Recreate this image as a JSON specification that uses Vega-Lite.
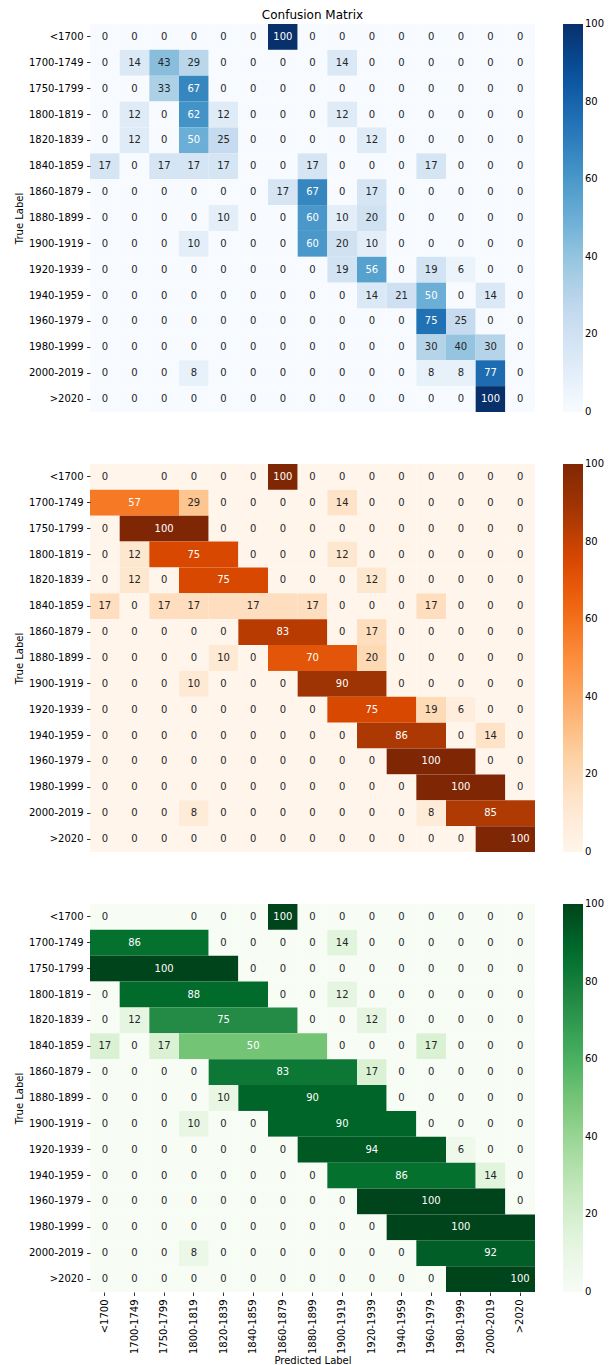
{
"$schema": "https://vega.github.io/schema/vega-lite/v6.json",
"background": "white",
"padding": {"left": 14, "top": 9, "right": 0, "bottom": 0},
"spacing": 47,
"config": {
 "view": {"stroke": null},
 "font": "DejaVu Sans",
 "axis": {"domain": false, "grid": false, "tickSize": 3.5, "tickWidth": 0.8, "tickColor": "black", "labelPadding": 3.5, "labelFont": "DejaVu Sans", "labelFontSize": 10, "labelColor": "black", "titleFont": "DejaVu Sans", "titleFontSize": 10, "titleFontWeight": "normal", "titleColor": "black"},
 "legend": {"gradientLength": 388, "gradientThickness": 20, "labelFont": "DejaVu Sans", "labelFontSize": 10, "labelColor": "black", "labelOffset": 7, "offset": 28, "gradientStrokeWidth": 0, "padding": 0, "labelBaseline": "middle", "labelOverlap": false}
},
"resolve": {"scale": {"color": "independent"}, "legend": {"color": "independent"}},
"datasets": {
"p1": [
{"r":0,"c":0,"a":0,"e":1,"v":0},{"r":0,"c":1,"a":1,"e":2,"v":0},{"r":0,"c":2,"a":2,"e":3,"v":0},{"r":0,"c":3,"a":3,"e":4,"v":0},{"r":0,"c":4,"a":4,"e":5,"v":0},{"r":0,"c":5,"a":5,"e":6,"v":0},{"r":0,"c":6,"a":6,"e":7,"v":100},{"r":0,"c":7,"a":7,"e":8,"v":0},{"r":0,"c":8,"a":8,"e":9,"v":0},{"r":0,"c":9,"a":9,"e":10,"v":0},{"r":0,"c":10,"a":10,"e":11,"v":0},{"r":0,"c":11,"a":11,"e":12,"v":0},{"r":0,"c":12,"a":12,"e":13,"v":0},{"r":0,"c":13,"a":13,"e":14,"v":0},{"r":0,"c":14,"a":14,"e":15,"v":0},
{"r":1,"c":0,"a":0,"e":1,"v":0},{"r":1,"c":1,"a":1,"e":2,"v":14},{"r":1,"c":2,"a":2,"e":3,"v":43},{"r":1,"c":3,"a":3,"e":4,"v":29},{"r":1,"c":4,"a":4,"e":5,"v":0},{"r":1,"c":5,"a":5,"e":6,"v":0},{"r":1,"c":6,"a":6,"e":7,"v":0},{"r":1,"c":7,"a":7,"e":8,"v":0},{"r":1,"c":8,"a":8,"e":9,"v":14},{"r":1,"c":9,"a":9,"e":10,"v":0},{"r":1,"c":10,"a":10,"e":11,"v":0},{"r":1,"c":11,"a":11,"e":12,"v":0},{"r":1,"c":12,"a":12,"e":13,"v":0},{"r":1,"c":13,"a":13,"e":14,"v":0},{"r":1,"c":14,"a":14,"e":15,"v":0},
{"r":2,"c":0,"a":0,"e":1,"v":0},{"r":2,"c":1,"a":1,"e":2,"v":0},{"r":2,"c":2,"a":2,"e":3,"v":33},{"r":2,"c":3,"a":3,"e":4,"v":67},{"r":2,"c":4,"a":4,"e":5,"v":0},{"r":2,"c":5,"a":5,"e":6,"v":0},{"r":2,"c":6,"a":6,"e":7,"v":0},{"r":2,"c":7,"a":7,"e":8,"v":0},{"r":2,"c":8,"a":8,"e":9,"v":0},{"r":2,"c":9,"a":9,"e":10,"v":0},{"r":2,"c":10,"a":10,"e":11,"v":0},{"r":2,"c":11,"a":11,"e":12,"v":0},{"r":2,"c":12,"a":12,"e":13,"v":0},{"r":2,"c":13,"a":13,"e":14,"v":0},{"r":2,"c":14,"a":14,"e":15,"v":0},
{"r":3,"c":0,"a":0,"e":1,"v":0},{"r":3,"c":1,"a":1,"e":2,"v":12},{"r":3,"c":2,"a":2,"e":3,"v":0},{"r":3,"c":3,"a":3,"e":4,"v":62},{"r":3,"c":4,"a":4,"e":5,"v":12},{"r":3,"c":5,"a":5,"e":6,"v":0},{"r":3,"c":6,"a":6,"e":7,"v":0},{"r":3,"c":7,"a":7,"e":8,"v":0},{"r":3,"c":8,"a":8,"e":9,"v":12},{"r":3,"c":9,"a":9,"e":10,"v":0},{"r":3,"c":10,"a":10,"e":11,"v":0},{"r":3,"c":11,"a":11,"e":12,"v":0},{"r":3,"c":12,"a":12,"e":13,"v":0},{"r":3,"c":13,"a":13,"e":14,"v":0},{"r":3,"c":14,"a":14,"e":15,"v":0},
{"r":4,"c":0,"a":0,"e":1,"v":0},{"r":4,"c":1,"a":1,"e":2,"v":12},{"r":4,"c":2,"a":2,"e":3,"v":0},{"r":4,"c":3,"a":3,"e":4,"v":50},{"r":4,"c":4,"a":4,"e":5,"v":25},{"r":4,"c":5,"a":5,"e":6,"v":0},{"r":4,"c":6,"a":6,"e":7,"v":0},{"r":4,"c":7,"a":7,"e":8,"v":0},{"r":4,"c":8,"a":8,"e":9,"v":0},{"r":4,"c":9,"a":9,"e":10,"v":12},{"r":4,"c":10,"a":10,"e":11,"v":0},{"r":4,"c":11,"a":11,"e":12,"v":0},{"r":4,"c":12,"a":12,"e":13,"v":0},{"r":4,"c":13,"a":13,"e":14,"v":0},{"r":4,"c":14,"a":14,"e":15,"v":0},
{"r":5,"c":0,"a":0,"e":1,"v":17},{"r":5,"c":1,"a":1,"e":2,"v":0},{"r":5,"c":2,"a":2,"e":3,"v":17},{"r":5,"c":3,"a":3,"e":4,"v":17},{"r":5,"c":4,"a":4,"e":5,"v":17},{"r":5,"c":5,"a":5,"e":6,"v":0},{"r":5,"c":6,"a":6,"e":7,"v":0},{"r":5,"c":7,"a":7,"e":8,"v":17},{"r":5,"c":8,"a":8,"e":9,"v":0},{"r":5,"c":9,"a":9,"e":10,"v":0},{"r":5,"c":10,"a":10,"e":11,"v":0},{"r":5,"c":11,"a":11,"e":12,"v":17},{"r":5,"c":12,"a":12,"e":13,"v":0},{"r":5,"c":13,"a":13,"e":14,"v":0},{"r":5,"c":14,"a":14,"e":15,"v":0},
{"r":6,"c":0,"a":0,"e":1,"v":0},{"r":6,"c":1,"a":1,"e":2,"v":0},{"r":6,"c":2,"a":2,"e":3,"v":0},{"r":6,"c":3,"a":3,"e":4,"v":0},{"r":6,"c":4,"a":4,"e":5,"v":0},{"r":6,"c":5,"a":5,"e":6,"v":0},{"r":6,"c":6,"a":6,"e":7,"v":17},{"r":6,"c":7,"a":7,"e":8,"v":67},{"r":6,"c":8,"a":8,"e":9,"v":0},{"r":6,"c":9,"a":9,"e":10,"v":17},{"r":6,"c":10,"a":10,"e":11,"v":0},{"r":6,"c":11,"a":11,"e":12,"v":0},{"r":6,"c":12,"a":12,"e":13,"v":0},{"r":6,"c":13,"a":13,"e":14,"v":0},{"r":6,"c":14,"a":14,"e":15,"v":0},
{"r":7,"c":0,"a":0,"e":1,"v":0},{"r":7,"c":1,"a":1,"e":2,"v":0},{"r":7,"c":2,"a":2,"e":3,"v":0},{"r":7,"c":3,"a":3,"e":4,"v":0},{"r":7,"c":4,"a":4,"e":5,"v":10},{"r":7,"c":5,"a":5,"e":6,"v":0},{"r":7,"c":6,"a":6,"e":7,"v":0},{"r":7,"c":7,"a":7,"e":8,"v":60},{"r":7,"c":8,"a":8,"e":9,"v":10},{"r":7,"c":9,"a":9,"e":10,"v":20},{"r":7,"c":10,"a":10,"e":11,"v":0},{"r":7,"c":11,"a":11,"e":12,"v":0},{"r":7,"c":12,"a":12,"e":13,"v":0},{"r":7,"c":13,"a":13,"e":14,"v":0},{"r":7,"c":14,"a":14,"e":15,"v":0},
{"r":8,"c":0,"a":0,"e":1,"v":0},{"r":8,"c":1,"a":1,"e":2,"v":0},{"r":8,"c":2,"a":2,"e":3,"v":0},{"r":8,"c":3,"a":3,"e":4,"v":10},{"r":8,"c":4,"a":4,"e":5,"v":0},{"r":8,"c":5,"a":5,"e":6,"v":0},{"r":8,"c":6,"a":6,"e":7,"v":0},{"r":8,"c":7,"a":7,"e":8,"v":60},{"r":8,"c":8,"a":8,"e":9,"v":20},{"r":8,"c":9,"a":9,"e":10,"v":10},{"r":8,"c":10,"a":10,"e":11,"v":0},{"r":8,"c":11,"a":11,"e":12,"v":0},{"r":8,"c":12,"a":12,"e":13,"v":0},{"r":8,"c":13,"a":13,"e":14,"v":0},{"r":8,"c":14,"a":14,"e":15,"v":0},
{"r":9,"c":0,"a":0,"e":1,"v":0},{"r":9,"c":1,"a":1,"e":2,"v":0},{"r":9,"c":2,"a":2,"e":3,"v":0},{"r":9,"c":3,"a":3,"e":4,"v":0},{"r":9,"c":4,"a":4,"e":5,"v":0},{"r":9,"c":5,"a":5,"e":6,"v":0},{"r":9,"c":6,"a":6,"e":7,"v":0},{"r":9,"c":7,"a":7,"e":8,"v":0},{"r":9,"c":8,"a":8,"e":9,"v":19},{"r":9,"c":9,"a":9,"e":10,"v":56},{"r":9,"c":10,"a":10,"e":11,"v":0},{"r":9,"c":11,"a":11,"e":12,"v":19},{"r":9,"c":12,"a":12,"e":13,"v":6},{"r":9,"c":13,"a":13,"e":14,"v":0},{"r":9,"c":14,"a":14,"e":15,"v":0},
{"r":10,"c":0,"a":0,"e":1,"v":0},{"r":10,"c":1,"a":1,"e":2,"v":0},{"r":10,"c":2,"a":2,"e":3,"v":0},{"r":10,"c":3,"a":3,"e":4,"v":0},{"r":10,"c":4,"a":4,"e":5,"v":0},{"r":10,"c":5,"a":5,"e":6,"v":0},{"r":10,"c":6,"a":6,"e":7,"v":0},{"r":10,"c":7,"a":7,"e":8,"v":0},{"r":10,"c":8,"a":8,"e":9,"v":0},{"r":10,"c":9,"a":9,"e":10,"v":14},{"r":10,"c":10,"a":10,"e":11,"v":21},{"r":10,"c":11,"a":11,"e":12,"v":50},{"r":10,"c":12,"a":12,"e":13,"v":0},{"r":10,"c":13,"a":13,"e":14,"v":14},{"r":10,"c":14,"a":14,"e":15,"v":0},
{"r":11,"c":0,"a":0,"e":1,"v":0},{"r":11,"c":1,"a":1,"e":2,"v":0},{"r":11,"c":2,"a":2,"e":3,"v":0},{"r":11,"c":3,"a":3,"e":4,"v":0},{"r":11,"c":4,"a":4,"e":5,"v":0},{"r":11,"c":5,"a":5,"e":6,"v":0},{"r":11,"c":6,"a":6,"e":7,"v":0},{"r":11,"c":7,"a":7,"e":8,"v":0},{"r":11,"c":8,"a":8,"e":9,"v":0},{"r":11,"c":9,"a":9,"e":10,"v":0},{"r":11,"c":10,"a":10,"e":11,"v":0},{"r":11,"c":11,"a":11,"e":12,"v":75},{"r":11,"c":12,"a":12,"e":13,"v":25},{"r":11,"c":13,"a":13,"e":14,"v":0},{"r":11,"c":14,"a":14,"e":15,"v":0},
{"r":12,"c":0,"a":0,"e":1,"v":0},{"r":12,"c":1,"a":1,"e":2,"v":0},{"r":12,"c":2,"a":2,"e":3,"v":0},{"r":12,"c":3,"a":3,"e":4,"v":0},{"r":12,"c":4,"a":4,"e":5,"v":0},{"r":12,"c":5,"a":5,"e":6,"v":0},{"r":12,"c":6,"a":6,"e":7,"v":0},{"r":12,"c":7,"a":7,"e":8,"v":0},{"r":12,"c":8,"a":8,"e":9,"v":0},{"r":12,"c":9,"a":9,"e":10,"v":0},{"r":12,"c":10,"a":10,"e":11,"v":0},{"r":12,"c":11,"a":11,"e":12,"v":30},{"r":12,"c":12,"a":12,"e":13,"v":40},{"r":12,"c":13,"a":13,"e":14,"v":30},{"r":12,"c":14,"a":14,"e":15,"v":0},
{"r":13,"c":0,"a":0,"e":1,"v":0},{"r":13,"c":1,"a":1,"e":2,"v":0},{"r":13,"c":2,"a":2,"e":3,"v":0},{"r":13,"c":3,"a":3,"e":4,"v":8},{"r":13,"c":4,"a":4,"e":5,"v":0},{"r":13,"c":5,"a":5,"e":6,"v":0},{"r":13,"c":6,"a":6,"e":7,"v":0},{"r":13,"c":7,"a":7,"e":8,"v":0},{"r":13,"c":8,"a":8,"e":9,"v":0},{"r":13,"c":9,"a":9,"e":10,"v":0},{"r":13,"c":10,"a":10,"e":11,"v":0},{"r":13,"c":11,"a":11,"e":12,"v":8},{"r":13,"c":12,"a":12,"e":13,"v":8},{"r":13,"c":13,"a":13,"e":14,"v":77},{"r":13,"c":14,"a":14,"e":15,"v":0},
{"r":14,"c":0,"a":0,"e":1,"v":0},{"r":14,"c":1,"a":1,"e":2,"v":0},{"r":14,"c":2,"a":2,"e":3,"v":0},{"r":14,"c":3,"a":3,"e":4,"v":0},{"r":14,"c":4,"a":4,"e":5,"v":0},{"r":14,"c":5,"a":5,"e":6,"v":0},{"r":14,"c":6,"a":6,"e":7,"v":0},{"r":14,"c":7,"a":7,"e":8,"v":0},{"r":14,"c":8,"a":8,"e":9,"v":0},{"r":14,"c":9,"a":9,"e":10,"v":0},{"r":14,"c":10,"a":10,"e":11,"v":0},{"r":14,"c":11,"a":11,"e":12,"v":0},{"r":14,"c":12,"a":12,"e":13,"v":0},{"r":14,"c":13,"a":13,"e":14,"v":100},{"r":14,"c":14,"a":14,"e":15,"v":0}
],
"p2": [
{"r":0,"c":0,"a":0,"e":2,"v":0},{"r":0,"c":2,"a":2,"e":3,"v":0},{"r":0,"c":3,"a":3,"e":4,"v":0},{"r":0,"c":4,"a":4,"e":5,"v":0},{"r":0,"c":5,"a":5,"e":6,"v":0},{"r":0,"c":6,"a":6,"e":7,"v":100},{"r":0,"c":7,"a":7,"e":8,"v":0},{"r":0,"c":8,"a":8,"e":9,"v":0},{"r":0,"c":9,"a":9,"e":10,"v":0},{"r":0,"c":10,"a":10,"e":11,"v":0},{"r":0,"c":11,"a":11,"e":12,"v":0},{"r":0,"c":12,"a":12,"e":13,"v":0},{"r":0,"c":13,"a":13,"e":14,"v":0},{"r":0,"c":14,"a":14,"e":15,"v":0},
{"r":1,"c":1,"a":0,"e":3,"v":57},{"r":1,"c":3,"a":3,"e":4,"v":29},{"r":1,"c":4,"a":4,"e":5,"v":0},{"r":1,"c":5,"a":5,"e":6,"v":0},{"r":1,"c":6,"a":6,"e":7,"v":0},{"r":1,"c":7,"a":7,"e":8,"v":0},{"r":1,"c":8,"a":8,"e":9,"v":14},{"r":1,"c":9,"a":9,"e":10,"v":0},{"r":1,"c":10,"a":10,"e":11,"v":0},{"r":1,"c":11,"a":11,"e":12,"v":0},{"r":1,"c":12,"a":12,"e":13,"v":0},{"r":1,"c":13,"a":13,"e":14,"v":0},{"r":1,"c":14,"a":14,"e":15,"v":0},
{"r":2,"c":0,"a":0,"e":1,"v":0},{"r":2,"c":2,"a":1,"e":4,"v":100},{"r":2,"c":4,"a":4,"e":5,"v":0},{"r":2,"c":5,"a":5,"e":6,"v":0},{"r":2,"c":6,"a":6,"e":7,"v":0},{"r":2,"c":7,"a":7,"e":8,"v":0},{"r":2,"c":8,"a":8,"e":9,"v":0},{"r":2,"c":9,"a":9,"e":10,"v":0},{"r":2,"c":10,"a":10,"e":11,"v":0},{"r":2,"c":11,"a":11,"e":12,"v":0},{"r":2,"c":12,"a":12,"e":13,"v":0},{"r":2,"c":13,"a":13,"e":14,"v":0},{"r":2,"c":14,"a":14,"e":15,"v":0},
{"r":3,"c":0,"a":0,"e":1,"v":0},{"r":3,"c":1,"a":1,"e":2,"v":12},{"r":3,"c":3,"a":2,"e":5,"v":75},{"r":3,"c":5,"a":5,"e":6,"v":0},{"r":3,"c":6,"a":6,"e":7,"v":0},{"r":3,"c":7,"a":7,"e":8,"v":0},{"r":3,"c":8,"a":8,"e":9,"v":12},{"r":3,"c":9,"a":9,"e":10,"v":0},{"r":3,"c":10,"a":10,"e":11,"v":0},{"r":3,"c":11,"a":11,"e":12,"v":0},{"r":3,"c":12,"a":12,"e":13,"v":0},{"r":3,"c":13,"a":13,"e":14,"v":0},{"r":3,"c":14,"a":14,"e":15,"v":0},
{"r":4,"c":0,"a":0,"e":1,"v":0},{"r":4,"c":1,"a":1,"e":2,"v":12},{"r":4,"c":2,"a":2,"e":3,"v":0},{"r":4,"c":4,"a":3,"e":6,"v":75},{"r":4,"c":6,"a":6,"e":7,"v":0},{"r":4,"c":7,"a":7,"e":8,"v":0},{"r":4,"c":8,"a":8,"e":9,"v":0},{"r":4,"c":9,"a":9,"e":10,"v":12},{"r":4,"c":10,"a":10,"e":11,"v":0},{"r":4,"c":11,"a":11,"e":12,"v":0},{"r":4,"c":12,"a":12,"e":13,"v":0},{"r":4,"c":13,"a":13,"e":14,"v":0},{"r":4,"c":14,"a":14,"e":15,"v":0},
{"r":5,"c":0,"a":0,"e":1,"v":17},{"r":5,"c":1,"a":1,"e":2,"v":0},{"r":5,"c":2,"a":2,"e":3,"v":17},{"r":5,"c":3,"a":3,"e":4,"v":17},{"r":5,"c":5,"a":4,"e":7,"v":17},{"r":5,"c":7,"a":7,"e":8,"v":17},{"r":5,"c":8,"a":8,"e":9,"v":0},{"r":5,"c":9,"a":9,"e":10,"v":0},{"r":5,"c":10,"a":10,"e":11,"v":0},{"r":5,"c":11,"a":11,"e":12,"v":17},{"r":5,"c":12,"a":12,"e":13,"v":0},{"r":5,"c":13,"a":13,"e":14,"v":0},{"r":5,"c":14,"a":14,"e":15,"v":0},
{"r":6,"c":0,"a":0,"e":1,"v":0},{"r":6,"c":1,"a":1,"e":2,"v":0},{"r":6,"c":2,"a":2,"e":3,"v":0},{"r":6,"c":3,"a":3,"e":4,"v":0},{"r":6,"c":4,"a":4,"e":5,"v":0},{"r":6,"c":6,"a":5,"e":8,"v":83},{"r":6,"c":8,"a":8,"e":9,"v":0},{"r":6,"c":9,"a":9,"e":10,"v":17},{"r":6,"c":10,"a":10,"e":11,"v":0},{"r":6,"c":11,"a":11,"e":12,"v":0},{"r":6,"c":12,"a":12,"e":13,"v":0},{"r":6,"c":13,"a":13,"e":14,"v":0},{"r":6,"c":14,"a":14,"e":15,"v":0},
{"r":7,"c":0,"a":0,"e":1,"v":0},{"r":7,"c":1,"a":1,"e":2,"v":0},{"r":7,"c":2,"a":2,"e":3,"v":0},{"r":7,"c":3,"a":3,"e":4,"v":0},{"r":7,"c":4,"a":4,"e":5,"v":10},{"r":7,"c":5,"a":5,"e":6,"v":0},{"r":7,"c":7,"a":6,"e":9,"v":70},{"r":7,"c":9,"a":9,"e":10,"v":20},{"r":7,"c":10,"a":10,"e":11,"v":0},{"r":7,"c":11,"a":11,"e":12,"v":0},{"r":7,"c":12,"a":12,"e":13,"v":0},{"r":7,"c":13,"a":13,"e":14,"v":0},{"r":7,"c":14,"a":14,"e":15,"v":0},
{"r":8,"c":0,"a":0,"e":1,"v":0},{"r":8,"c":1,"a":1,"e":2,"v":0},{"r":8,"c":2,"a":2,"e":3,"v":0},{"r":8,"c":3,"a":3,"e":4,"v":10},{"r":8,"c":4,"a":4,"e":5,"v":0},{"r":8,"c":5,"a":5,"e":6,"v":0},{"r":8,"c":6,"a":6,"e":7,"v":0},{"r":8,"c":8,"a":7,"e":10,"v":90},{"r":8,"c":10,"a":10,"e":11,"v":0},{"r":8,"c":11,"a":11,"e":12,"v":0},{"r":8,"c":12,"a":12,"e":13,"v":0},{"r":8,"c":13,"a":13,"e":14,"v":0},{"r":8,"c":14,"a":14,"e":15,"v":0},
{"r":9,"c":0,"a":0,"e":1,"v":0},{"r":9,"c":1,"a":1,"e":2,"v":0},{"r":9,"c":2,"a":2,"e":3,"v":0},{"r":9,"c":3,"a":3,"e":4,"v":0},{"r":9,"c":4,"a":4,"e":5,"v":0},{"r":9,"c":5,"a":5,"e":6,"v":0},{"r":9,"c":6,"a":6,"e":7,"v":0},{"r":9,"c":7,"a":7,"e":8,"v":0},{"r":9,"c":9,"a":8,"e":11,"v":75},{"r":9,"c":11,"a":11,"e":12,"v":19},{"r":9,"c":12,"a":12,"e":13,"v":6},{"r":9,"c":13,"a":13,"e":14,"v":0},{"r":9,"c":14,"a":14,"e":15,"v":0},
{"r":10,"c":0,"a":0,"e":1,"v":0},{"r":10,"c":1,"a":1,"e":2,"v":0},{"r":10,"c":2,"a":2,"e":3,"v":0},{"r":10,"c":3,"a":3,"e":4,"v":0},{"r":10,"c":4,"a":4,"e":5,"v":0},{"r":10,"c":5,"a":5,"e":6,"v":0},{"r":10,"c":6,"a":6,"e":7,"v":0},{"r":10,"c":7,"a":7,"e":8,"v":0},{"r":10,"c":8,"a":8,"e":9,"v":0},{"r":10,"c":10,"a":9,"e":12,"v":86},{"r":10,"c":12,"a":12,"e":13,"v":0},{"r":10,"c":13,"a":13,"e":14,"v":14},{"r":10,"c":14,"a":14,"e":15,"v":0},
{"r":11,"c":0,"a":0,"e":1,"v":0},{"r":11,"c":1,"a":1,"e":2,"v":0},{"r":11,"c":2,"a":2,"e":3,"v":0},{"r":11,"c":3,"a":3,"e":4,"v":0},{"r":11,"c":4,"a":4,"e":5,"v":0},{"r":11,"c":5,"a":5,"e":6,"v":0},{"r":11,"c":6,"a":6,"e":7,"v":0},{"r":11,"c":7,"a":7,"e":8,"v":0},{"r":11,"c":8,"a":8,"e":9,"v":0},{"r":11,"c":9,"a":9,"e":10,"v":0},{"r":11,"c":11,"a":10,"e":13,"v":100},{"r":11,"c":13,"a":13,"e":14,"v":0},{"r":11,"c":14,"a":14,"e":15,"v":0},
{"r":12,"c":0,"a":0,"e":1,"v":0},{"r":12,"c":1,"a":1,"e":2,"v":0},{"r":12,"c":2,"a":2,"e":3,"v":0},{"r":12,"c":3,"a":3,"e":4,"v":0},{"r":12,"c":4,"a":4,"e":5,"v":0},{"r":12,"c":5,"a":5,"e":6,"v":0},{"r":12,"c":6,"a":6,"e":7,"v":0},{"r":12,"c":7,"a":7,"e":8,"v":0},{"r":12,"c":8,"a":8,"e":9,"v":0},{"r":12,"c":9,"a":9,"e":10,"v":0},{"r":12,"c":10,"a":10,"e":11,"v":0},{"r":12,"c":12,"a":11,"e":14,"v":100},{"r":12,"c":14,"a":14,"e":15,"v":0},
{"r":13,"c":0,"a":0,"e":1,"v":0},{"r":13,"c":1,"a":1,"e":2,"v":0},{"r":13,"c":2,"a":2,"e":3,"v":0},{"r":13,"c":3,"a":3,"e":4,"v":8},{"r":13,"c":4,"a":4,"e":5,"v":0},{"r":13,"c":5,"a":5,"e":6,"v":0},{"r":13,"c":6,"a":6,"e":7,"v":0},{"r":13,"c":7,"a":7,"e":8,"v":0},{"r":13,"c":8,"a":8,"e":9,"v":0},{"r":13,"c":9,"a":9,"e":10,"v":0},{"r":13,"c":10,"a":10,"e":11,"v":0},{"r":13,"c":11,"a":11,"e":12,"v":8},{"r":13,"c":13,"a":12,"e":15,"v":85},
{"r":14,"c":0,"a":0,"e":1,"v":0},{"r":14,"c":1,"a":1,"e":2,"v":0},{"r":14,"c":2,"a":2,"e":3,"v":0},{"r":14,"c":3,"a":3,"e":4,"v":0},{"r":14,"c":4,"a":4,"e":5,"v":0},{"r":14,"c":5,"a":5,"e":6,"v":0},{"r":14,"c":6,"a":6,"e":7,"v":0},{"r":14,"c":7,"a":7,"e":8,"v":0},{"r":14,"c":8,"a":8,"e":9,"v":0},{"r":14,"c":9,"a":9,"e":10,"v":0},{"r":14,"c":10,"a":10,"e":11,"v":0},{"r":14,"c":11,"a":11,"e":12,"v":0},{"r":14,"c":12,"a":12,"e":13,"v":0},{"r":14,"c":14,"a":13,"e":15,"v":100}
],
"p3": [
{"r":0,"c":0,"a":0,"e":3,"v":0},{"r":0,"c":3,"a":3,"e":4,"v":0},{"r":0,"c":4,"a":4,"e":5,"v":0},{"r":0,"c":5,"a":5,"e":6,"v":0},{"r":0,"c":6,"a":6,"e":7,"v":100},{"r":0,"c":7,"a":7,"e":8,"v":0},{"r":0,"c":8,"a":8,"e":9,"v":0},{"r":0,"c":9,"a":9,"e":10,"v":0},{"r":0,"c":10,"a":10,"e":11,"v":0},{"r":0,"c":11,"a":11,"e":12,"v":0},{"r":0,"c":12,"a":12,"e":13,"v":0},{"r":0,"c":13,"a":13,"e":14,"v":0},{"r":0,"c":14,"a":14,"e":15,"v":0},
{"r":1,"c":1,"a":0,"e":4,"v":86},{"r":1,"c":4,"a":4,"e":5,"v":0},{"r":1,"c":5,"a":5,"e":6,"v":0},{"r":1,"c":6,"a":6,"e":7,"v":0},{"r":1,"c":7,"a":7,"e":8,"v":0},{"r":1,"c":8,"a":8,"e":9,"v":14},{"r":1,"c":9,"a":9,"e":10,"v":0},{"r":1,"c":10,"a":10,"e":11,"v":0},{"r":1,"c":11,"a":11,"e":12,"v":0},{"r":1,"c":12,"a":12,"e":13,"v":0},{"r":1,"c":13,"a":13,"e":14,"v":0},{"r":1,"c":14,"a":14,"e":15,"v":0},
{"r":2,"c":2,"a":0,"e":5,"v":100},{"r":2,"c":5,"a":5,"e":6,"v":0},{"r":2,"c":6,"a":6,"e":7,"v":0},{"r":2,"c":7,"a":7,"e":8,"v":0},{"r":2,"c":8,"a":8,"e":9,"v":0},{"r":2,"c":9,"a":9,"e":10,"v":0},{"r":2,"c":10,"a":10,"e":11,"v":0},{"r":2,"c":11,"a":11,"e":12,"v":0},{"r":2,"c":12,"a":12,"e":13,"v":0},{"r":2,"c":13,"a":13,"e":14,"v":0},{"r":2,"c":14,"a":14,"e":15,"v":0},
{"r":3,"c":0,"a":0,"e":1,"v":0},{"r":3,"c":3,"a":1,"e":6,"v":88},{"r":3,"c":6,"a":6,"e":7,"v":0},{"r":3,"c":7,"a":7,"e":8,"v":0},{"r":3,"c":8,"a":8,"e":9,"v":12},{"r":3,"c":9,"a":9,"e":10,"v":0},{"r":3,"c":10,"a":10,"e":11,"v":0},{"r":3,"c":11,"a":11,"e":12,"v":0},{"r":3,"c":12,"a":12,"e":13,"v":0},{"r":3,"c":13,"a":13,"e":14,"v":0},{"r":3,"c":14,"a":14,"e":15,"v":0},
{"r":4,"c":0,"a":0,"e":1,"v":0},{"r":4,"c":1,"a":1,"e":2,"v":12},{"r":4,"c":4,"a":2,"e":7,"v":75},{"r":4,"c":7,"a":7,"e":8,"v":0},{"r":4,"c":8,"a":8,"e":9,"v":0},{"r":4,"c":9,"a":9,"e":10,"v":12},{"r":4,"c":10,"a":10,"e":11,"v":0},{"r":4,"c":11,"a":11,"e":12,"v":0},{"r":4,"c":12,"a":12,"e":13,"v":0},{"r":4,"c":13,"a":13,"e":14,"v":0},{"r":4,"c":14,"a":14,"e":15,"v":0},
{"r":5,"c":0,"a":0,"e":1,"v":17},{"r":5,"c":1,"a":1,"e":2,"v":0},{"r":5,"c":2,"a":2,"e":3,"v":17},{"r":5,"c":5,"a":3,"e":8,"v":50},{"r":5,"c":8,"a":8,"e":9,"v":0},{"r":5,"c":9,"a":9,"e":10,"v":0},{"r":5,"c":10,"a":10,"e":11,"v":0},{"r":5,"c":11,"a":11,"e":12,"v":17},{"r":5,"c":12,"a":12,"e":13,"v":0},{"r":5,"c":13,"a":13,"e":14,"v":0},{"r":5,"c":14,"a":14,"e":15,"v":0},
{"r":6,"c":0,"a":0,"e":1,"v":0},{"r":6,"c":1,"a":1,"e":2,"v":0},{"r":6,"c":2,"a":2,"e":3,"v":0},{"r":6,"c":3,"a":3,"e":4,"v":0},{"r":6,"c":6,"a":4,"e":9,"v":83},{"r":6,"c":9,"a":9,"e":10,"v":17},{"r":6,"c":10,"a":10,"e":11,"v":0},{"r":6,"c":11,"a":11,"e":12,"v":0},{"r":6,"c":12,"a":12,"e":13,"v":0},{"r":6,"c":13,"a":13,"e":14,"v":0},{"r":6,"c":14,"a":14,"e":15,"v":0},
{"r":7,"c":0,"a":0,"e":1,"v":0},{"r":7,"c":1,"a":1,"e":2,"v":0},{"r":7,"c":2,"a":2,"e":3,"v":0},{"r":7,"c":3,"a":3,"e":4,"v":0},{"r":7,"c":4,"a":4,"e":5,"v":10},{"r":7,"c":7,"a":5,"e":10,"v":90},{"r":7,"c":10,"a":10,"e":11,"v":0},{"r":7,"c":11,"a":11,"e":12,"v":0},{"r":7,"c":12,"a":12,"e":13,"v":0},{"r":7,"c":13,"a":13,"e":14,"v":0},{"r":7,"c":14,"a":14,"e":15,"v":0},
{"r":8,"c":0,"a":0,"e":1,"v":0},{"r":8,"c":1,"a":1,"e":2,"v":0},{"r":8,"c":2,"a":2,"e":3,"v":0},{"r":8,"c":3,"a":3,"e":4,"v":10},{"r":8,"c":4,"a":4,"e":5,"v":0},{"r":8,"c":5,"a":5,"e":6,"v":0},{"r":8,"c":8,"a":6,"e":11,"v":90},{"r":8,"c":11,"a":11,"e":12,"v":0},{"r":8,"c":12,"a":12,"e":13,"v":0},{"r":8,"c":13,"a":13,"e":14,"v":0},{"r":8,"c":14,"a":14,"e":15,"v":0},
{"r":9,"c":0,"a":0,"e":1,"v":0},{"r":9,"c":1,"a":1,"e":2,"v":0},{"r":9,"c":2,"a":2,"e":3,"v":0},{"r":9,"c":3,"a":3,"e":4,"v":0},{"r":9,"c":4,"a":4,"e":5,"v":0},{"r":9,"c":5,"a":5,"e":6,"v":0},{"r":9,"c":6,"a":6,"e":7,"v":0},{"r":9,"c":9,"a":7,"e":12,"v":94},{"r":9,"c":12,"a":12,"e":13,"v":6},{"r":9,"c":13,"a":13,"e":14,"v":0},{"r":9,"c":14,"a":14,"e":15,"v":0},
{"r":10,"c":0,"a":0,"e":1,"v":0},{"r":10,"c":1,"a":1,"e":2,"v":0},{"r":10,"c":2,"a":2,"e":3,"v":0},{"r":10,"c":3,"a":3,"e":4,"v":0},{"r":10,"c":4,"a":4,"e":5,"v":0},{"r":10,"c":5,"a":5,"e":6,"v":0},{"r":10,"c":6,"a":6,"e":7,"v":0},{"r":10,"c":7,"a":7,"e":8,"v":0},{"r":10,"c":10,"a":8,"e":13,"v":86},{"r":10,"c":13,"a":13,"e":14,"v":14},{"r":10,"c":14,"a":14,"e":15,"v":0},
{"r":11,"c":0,"a":0,"e":1,"v":0},{"r":11,"c":1,"a":1,"e":2,"v":0},{"r":11,"c":2,"a":2,"e":3,"v":0},{"r":11,"c":3,"a":3,"e":4,"v":0},{"r":11,"c":4,"a":4,"e":5,"v":0},{"r":11,"c":5,"a":5,"e":6,"v":0},{"r":11,"c":6,"a":6,"e":7,"v":0},{"r":11,"c":7,"a":7,"e":8,"v":0},{"r":11,"c":8,"a":8,"e":9,"v":0},{"r":11,"c":11,"a":9,"e":14,"v":100},{"r":11,"c":14,"a":14,"e":15,"v":0},
{"r":12,"c":0,"a":0,"e":1,"v":0},{"r":12,"c":1,"a":1,"e":2,"v":0},{"r":12,"c":2,"a":2,"e":3,"v":0},{"r":12,"c":3,"a":3,"e":4,"v":0},{"r":12,"c":4,"a":4,"e":5,"v":0},{"r":12,"c":5,"a":5,"e":6,"v":0},{"r":12,"c":6,"a":6,"e":7,"v":0},{"r":12,"c":7,"a":7,"e":8,"v":0},{"r":12,"c":8,"a":8,"e":9,"v":0},{"r":12,"c":9,"a":9,"e":10,"v":0},{"r":12,"c":12,"a":10,"e":15,"v":100},
{"r":13,"c":0,"a":0,"e":1,"v":0},{"r":13,"c":1,"a":1,"e":2,"v":0},{"r":13,"c":2,"a":2,"e":3,"v":0},{"r":13,"c":3,"a":3,"e":4,"v":8},{"r":13,"c":4,"a":4,"e":5,"v":0},{"r":13,"c":5,"a":5,"e":6,"v":0},{"r":13,"c":6,"a":6,"e":7,"v":0},{"r":13,"c":7,"a":7,"e":8,"v":0},{"r":13,"c":8,"a":8,"e":9,"v":0},{"r":13,"c":9,"a":9,"e":10,"v":0},{"r":13,"c":10,"a":10,"e":11,"v":0},{"r":13,"c":13,"a":11,"e":15,"v":92},
{"r":14,"c":0,"a":0,"e":1,"v":0},{"r":14,"c":1,"a":1,"e":2,"v":0},{"r":14,"c":2,"a":2,"e":3,"v":0},{"r":14,"c":3,"a":3,"e":4,"v":0},{"r":14,"c":4,"a":4,"e":5,"v":0},{"r":14,"c":5,"a":5,"e":6,"v":0},{"r":14,"c":6,"a":6,"e":7,"v":0},{"r":14,"c":7,"a":7,"e":8,"v":0},{"r":14,"c":8,"a":8,"e":9,"v":0},{"r":14,"c":9,"a":9,"e":10,"v":0},{"r":14,"c":10,"a":10,"e":11,"v":0},{"r":14,"c":11,"a":11,"e":12,"v":0},{"r":14,"c":14,"a":12,"e":15,"v":100}
]
},
"vconcat": [
{
 "data": {"name": "p1"},
 "width": 445, "height": 388,
 "title": {"text": "Confusion Matrix", "fontSize": 12, "fontWeight": "normal", "font": "DejaVu Sans", "color": "black", "offset": 2, "anchor": "middle"},
 "resolve": {"scale": {"x": "independent"}, "axis": {"x": "independent"}},
 "layer": [
  {"mark": {"type": "rect"},
   "encoding": {
    "x": {"field": "a", "type": "quantitative", "scale": {"domain": [0, 15], "nice": false, "zero": false}, "axis": null},
    "x2": {"field": "e"},
    "y": {"field": "r", "type": "ordinal", "scale": {"type": "band", "domain": [0,1,2,3,4,5,6,7,8,9,10,11,12,13,14], "paddingInner": 0, "paddingOuter": 0}, "axis": {"title": "True Label", "titlePadding": 4, "labelExpr": "['<1700','1700-1749','1750-1799','1800-1819','1820-1839','1840-1859','1860-1879','1880-1899','1900-1919','1920-1939','1940-1959','1960-1979','1980-1999','2000-2019','>2020'][datum.value]"}},
    "color": {"field": "v", "type": "quantitative", "scale": {"domain": [0,12.5,25,37.5,50,62.5,75,87.5,100], "range": ["#f7fbff","#deebf7","#c6dbef","#9ecae1","#6baed6","#4292c6","#2171b5","#08519c","#08306b"], "interpolate": "rgb"}, "legend": {"title": null, "values": [0,20,40,60,80,100], "encode": {"labels": {"update": {"baseline": {"value": "middle"}}}}}}
   }},
  {"mark": {"type": "text", "font": "DejaVu Sans", "fontSize": 10},
   "encoding": {
    "x": {"field": "c", "type": "ordinal", "scale": {"type": "band", "domain": [0,1,2,3,4,5,6,7,8,9,10,11,12,13,14], "paddingInner": 0, "paddingOuter": 0}, "axis": null},
    "y": {"field": "r", "type": "ordinal"},
    "text": {"field": "v", "type": "quantitative"},
    "color": {"condition": {"test": "datum.v >= 45", "value": "white"}, "value": "#262626"}
   }}
 ]
},
{
 "data": {"name": "p2"},
 "width": 445, "height": 388,
 "resolve": {"scale": {"x": "independent"}, "axis": {"x": "independent"}},
 "layer": [
  {"mark": {"type": "rect"},
   "encoding": {
    "x": {"field": "a", "type": "quantitative", "scale": {"domain": [0, 15], "nice": false, "zero": false}, "axis": null},
    "x2": {"field": "e"},
    "y": {"field": "r", "type": "ordinal", "scale": {"type": "band", "domain": [0,1,2,3,4,5,6,7,8,9,10,11,12,13,14], "paddingInner": 0, "paddingOuter": 0}, "axis": {"title": "True Label", "titlePadding": 4, "labelExpr": "['<1700','1700-1749','1750-1799','1800-1819','1820-1839','1840-1859','1860-1879','1880-1899','1900-1919','1920-1939','1940-1959','1960-1979','1980-1999','2000-2019','>2020'][datum.value]"}},
    "color": {"field": "v", "type": "quantitative", "scale": {"domain": [0,12.5,25,37.5,50,62.5,75,87.5,100], "range": ["#fff5eb","#fee6ce","#fdd0a2","#fdae6b","#fd8d3c","#f16913","#d94801","#a63603","#7f2704"], "interpolate": "rgb"}, "legend": {"title": null, "values": [0,20,40,60,80,100], "encode": {"labels": {"update": {"baseline": {"value": "middle"}}}}}}
   }},
  {"mark": {"type": "text", "font": "DejaVu Sans", "fontSize": 10},
   "encoding": {
    "x": {"field": "c", "type": "ordinal", "scale": {"type": "band", "domain": [0,1,2,3,4,5,6,7,8,9,10,11,12,13,14], "paddingInner": 0, "paddingOuter": 0}, "axis": null},
    "y": {"field": "r", "type": "ordinal"},
    "text": {"field": "v", "type": "quantitative"},
    "color": {"condition": {"test": "datum.v >= 45", "value": "white"}, "value": "#262626"}
   }}
 ]
},
{
 "data": {"name": "p3"},
 "width": 445, "height": 388,
 "resolve": {"scale": {"x": "independent"}, "axis": {"x": "independent"}},
 "layer": [
  {"mark": {"type": "rect"},
   "encoding": {
    "x": {"field": "a", "type": "quantitative", "scale": {"domain": [0, 15], "nice": false, "zero": false}, "axis": null},
    "x2": {"field": "e"},
    "y": {"field": "r", "type": "ordinal", "scale": {"type": "band", "domain": [0,1,2,3,4,5,6,7,8,9,10,11,12,13,14], "paddingInner": 0, "paddingOuter": 0}, "axis": {"title": "True Label", "titlePadding": 4, "labelExpr": "['<1700','1700-1749','1750-1799','1800-1819','1820-1839','1840-1859','1860-1879','1880-1899','1900-1919','1920-1939','1940-1959','1960-1979','1980-1999','2000-2019','>2020'][datum.value]"}},
    "color": {"field": "v", "type": "quantitative", "scale": {"domain": [0,12.5,25,37.5,50,62.5,75,87.5,100], "range": ["#f7fcf5","#e5f5e0","#c7e9c0","#a1d99b","#74c476","#41ab5d","#238b45","#006d2c","#00441b"], "interpolate": "rgb"}, "legend": {"title": null, "values": [0,20,40,60,80,100], "encode": {"labels": {"update": {"baseline": {"value": "middle"}}}}}}
   }},
  {"mark": {"type": "text", "font": "DejaVu Sans", "fontSize": 10},
   "encoding": {
    "x": {"field": "c", "type": "ordinal", "scale": {"type": "band", "domain": [0,1,2,3,4,5,6,7,8,9,10,11,12,13,14], "paddingInner": 0, "paddingOuter": 0}, "axis": {"title": "Predicted Label", "titlePadding": 2, "labelAngle": -90, "labelExpr": "['<1700','1700-1749','1750-1799','1800-1819','1820-1839','1840-1859','1860-1879','1880-1899','1900-1919','1920-1939','1940-1959','1960-1979','1980-1999','2000-2019','>2020'][datum.value]"}},
    "y": {"field": "r", "type": "ordinal"},
    "text": {"field": "v", "type": "quantitative"},
    "color": {"condition": {"test": "datum.v >= 45", "value": "white"}, "value": "#262626"}
   }}
 ]
}
]
}
